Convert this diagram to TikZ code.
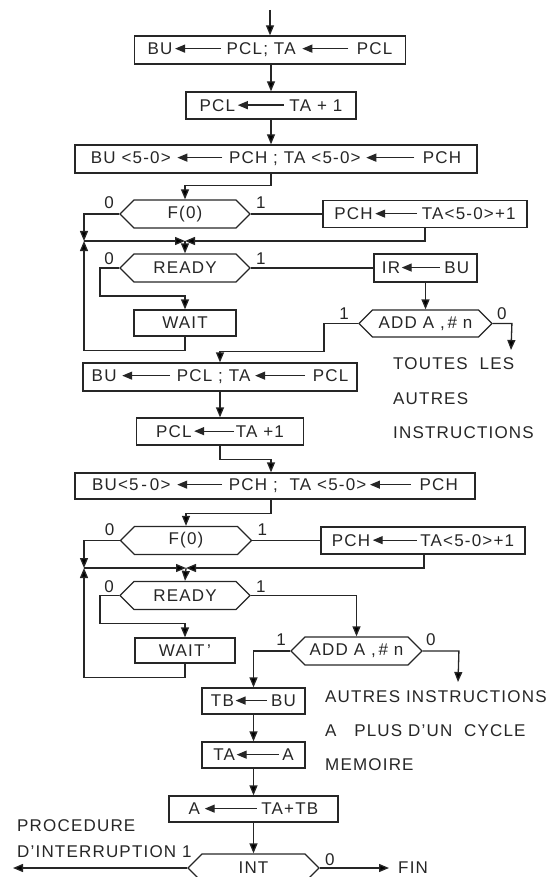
\documentclass[tikz,border=0pt]{standalone}
\usepackage{fontspec}
\setmainfont[LetterSpace=7]{Liberation Sans}
\usetikzlibrary{arrows.meta,shapes.symbols}
\definecolor{ink}{HTML}{262626}
\newcommand\fs{\fontsize{17}{20}\selectfont}
\newcommand\la[1]{\tikz[baseline=-6.2pt]\draw[ink,line width=1.3pt,-{Triangle[length=10pt,width=8pt]}] (#1pt,0pt) -- (0pt,0pt);}
\tikzset{
  box/.style={draw=ink, line width=1.3pt, minimum height=27pt, inner sep=0pt, font=\fs, text=ink},
  hex/.style={signal, signal to=east and west, draw=ink, line width=1.3pt, minimum height=28pt, minimum width=130pt, inner sep=0pt, font=\fs, text=ink},
  conn/.style={draw=ink, line width=1.3pt},
  arr/.style={conn, -{Triangle[length=10pt,width=8pt]}},
  lbl/.style={font=\fs, text=ink, inner sep=0pt},
  txt/.style={font=\fs, text=ink, inner sep=0pt, anchor=west},
}
\begin{document}
\begin{tikzpicture}[x=1pt,y=-1pt]
\useasboundingbox (0,0) rectangle (549,877);
\clip (0,0) rectangle (549,877);
% ---- first cycle
\coordinate (start) at (270,10);
\node[box, minimum width=271pt, minimum height=28pt] (b1) at (270,50) {BU\hspace{2pt}\la{46}\hspace{5pt}PCL;\ TA\hspace{6pt}\la{46}\hspace{8pt}PCL};
\node[box, minimum width=170pt] (b2) at (271,105.5) {PCL\hspace{2pt}\la{46}\hspace{5pt}TA + 1};
\node[box, minimum width=402pt, minimum height=28pt] (b3) at (276,159) {BU <5-0>\hspace{6pt}\la{45}\hspace{6pt}PCH ; TA <5-0>\hspace{5pt}\la{48}\hspace{8pt}PCH};
\node[hex] (f1) at (185,214) {F(0)};
\node[box, minimum width=204pt] (p1) at (425,214) {PCH\hspace{2pt}\la{42}\hspace{4pt}TA<5-0>+1};
\coordinate (m1l) at (84,241);
\coordinate (m1) at (185,241);
\node[hex] (r1) at (185,268) {READY};
\node[box, minimum width=103pt, minimum height=28pt] (ir) at (425.5,268) {IR\hspace{1pt}\la{38}\hspace{4pt}BU};
\node[box, minimum width=102pt, minimum height=26pt] (w1) at (185,323) {WAIT};
\node[hex, minimum width=133pt, minimum height=27pt] (a1) at (425.5,323.5) {ADD A ,\,\# n};
\coordinate (o1) at (511,350);
\node[txt] (t1) at (393,364) {TOUTES\ \ LES};
\node[txt] (t2) at (393,399) {AUTRES};
\node[txt] (t3) at (393,433) {INSTRUCTIONS};
% labels
\node[lbl] at ([shift={(-10,-11)}]f1.west) {0};
\node[lbl] at ([shift={(10,-11)}]f1.east) {1};
\node[lbl] at ([shift={(-10,-9)}]r1.west) {0};
\node[lbl] at ([shift={(10,-9)}]r1.east) {1};
\node[lbl] at ([shift={(-14,-10)}]a1.west) {1};
\node[lbl] at ([shift={(9,-10)}]a1.east) {0};
% connectors
\draw[arr] (start) -- (start |- b1.north);
\draw[arr] (b2.north |- b1.south) -- (b2.north);
\draw[arr] (b2.south) -- (b2.south |- b3.north);
\draw[arr] (b3.south -| b2.south) -- ++(0,12) -| (f1.north);
\draw[conn] (f1.east) -- (p1.west);
\draw[arr] (f1.west) -| (m1l);
\draw[arr] (p1.south) |- (m1);
\draw[arr] (m1l) -- (m1);
\draw[arr] (m1) -- (r1.north);
\draw[conn] (r1.east) -- (ir.west);
\draw[arr] (r1.west) -- ++(-19,0) -- ++(0,28) -| (w1.north);
\draw[arr] (w1.south) -- ++(0,14) -| (m1l);
\draw[arr] (ir.south) -- (a1.north);
% ---- second cycle
\node[box, minimum width=274pt, minimum height=28pt] (b4) at (220,377) {BU\hspace{5pt}\la{48}\hspace{6pt}PCL ; TA\hspace{4pt}\la{50}\hspace{7pt}PCL};
\node[box, minimum width=167pt] (b5) at (220,431.5) {PCL\hspace{2pt}\la{40}\hspace{1pt}TA +1};
\node[box, minimum width=400pt, minimum height=26pt] (b6) at (275,486) {BU<5\,-\,0>\hspace{6pt}\la{45}\hspace{6pt}PCH ;\ \ TA <5-0>\hspace{3pt}\la{41}\hspace{8pt}PCH};
\node[hex, minimum width=131pt] (f2) at (186,540.5) {F(0)};
\node[box, minimum width=204pt] (p2) at (423,540.5) {PCH\hspace{2pt}\la{44}\hspace{3pt}TA<5-0>+1};
\coordinate (m2l) at (84,568);
\coordinate (m2) at (186,568);
\node[hex] (r2) at (185,595.5) {READY};
\node[box, minimum width=100pt, minimum height=25pt] (w2) at (185,650.5) {WAIT\,'};
\node[hex, minimum width=131pt] (a2) at (356.5,651) {ADD A ,\,\# n};
\coordinate (o2) at (458,682);
\node[txt] (u1) at (325,697) {AUTRES\ INSTRUCTIONS};
\node[txt] (u2) at (325,731) {A\ \ \ PLUS\ D'UN\ \ CYCLE};
\node[txt] (u3) at (325,765) {MEMOIRE};
\node[lbl] at ([shift={(-10,-11)}]f2.west) {0};
\node[lbl] at ([shift={(10,-11)}]f2.east) {1};
\node[lbl] at ([shift={(-10,-9)}]r2.west) {0};
\node[lbl] at ([shift={(10,-9)}]r2.east) {1};
\node[lbl] at ([shift={(-9,-11)}]a2.west) {1};
\node[lbl] at ([shift={(8,-11)}]a2.east) {0};
\draw[arr] (a1.west) -- ++(-34,0) -- ++(0,28) -| (b4.north);
\draw[arr] (a1.east) -- ++(19,0) -- (o1);
\draw[arr] (b4.south) -- (b5.north);
\draw[arr] (b5.south) -- ++(0,14) -| ([xshift=-4pt]b6.north);
\draw[arr] ([xshift=-4pt]b6.south) -- ++(0,14) -| (f2.north);
\draw[conn] (f2.east) -- (p2.west);
\draw[arr] (f2.west) -| (m2l);
\draw[arr] ([xshift=1pt]p2.south) |- (m2);
\draw[arr] (m2l) -- (m2);
\draw[arr] (m2) -- (r2.north);
\draw[arr] (r2.west) -- ++(-19,0) -- ++(0,28) -| (w2.north);
\draw[arr] (w2.south) -- ++(0,14) -| (m2l);
\draw[arr] (r2.east) -| (a2.north);
\draw[arr] (a2.east) -- ++(36,0) -- (o2);
% ---- execution
\node[box, minimum width=103pt, minimum height=26pt] (tb) at (253.5,701) {TB\hspace{1pt}\la{31}\hspace{4pt}BU};
\node[box, minimum width=103pt, minimum height=26pt] (ta) at (253.5,755) {TA\hspace{1pt}\la{42}\hspace{3pt}A};
\node[box, minimum width=169pt, minimum height=26pt] (ab) at (253.5,809) {A\hspace{4pt}\la{52}\hspace{4pt}TA+TB};
\node[hex, minimum width=131pt] (int) at (253.5,868) {INT};
\node[txt] (pr1) at (17,826) {PROCEDURE};
\node[txt] (pr2) at (17,852) {D'INTERRUPTION 1};
\coordinate (pend) at (13,868);
\node[txt] (fin) at (398,868) {FIN};
\node[lbl] at ([shift={(10,-8)}]int.east) {0};
\draw[arr] (a2.west) -| (tb.north);
\draw[arr] (tb.south) -- (ta.north);
\draw[arr] (ta.south) -- (ab.north);
\draw[arr] (ab.south) -- (int.north);
\draw[arr] (int.west) -- (pend);
\draw[arr] (int.east) -- ([xshift=-9pt]fin.west);
\end{tikzpicture}
\end{document}
